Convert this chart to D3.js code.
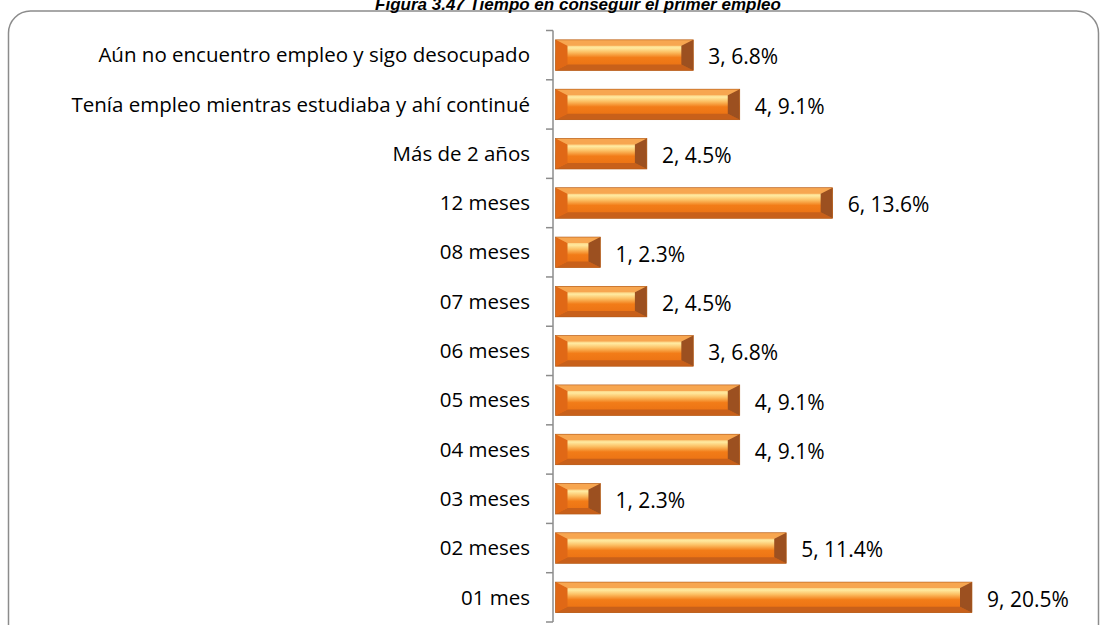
<!DOCTYPE html>
<html><head><meta charset="utf-8">
<script src="https://cdn.jsdelivr.net/npm/d3@7"></script>
<style>html,body{margin:0;padding:0;background:#fff;overflow:hidden}</style>
</head><body>
<svg id="c" width="1102" height="625"></svg>
<script>
const categories = ["Aún no encuentro empleo y sigo desocupado","Tenía empleo mientras estudiaba y ahí continué","Más de 2 años","12 meses","08 meses","07 meses","06 meses","05 meses","04 meses","03 meses","02 meses","01 mes"];
const counts = [3,4,2,6,1,2,3,4,4,1,5,9];
const percents = ["6.8%","9.1%","4.5%","13.6%","2.3%","4.5%","6.8%","9.1%","9.1%","2.3%","11.4%","20.5%"];
const title = "Figura 3.47 Tiempo en conseguir el primer empleo";

const svg = d3.select("#c");
const font = "'Open Sans', 'Noto Sans', sans-serif";

// frame
svg.append("rect").attr("x",8.5).attr("y",11).attr("width",1090).attr("height",640)
  .attr("rx",22).attr("ry",22).attr("fill","none").attr("stroke","#8c8c8c").attr("stroke-width",1.5);

svg.append("text").attr("x",578).attr("y",10).attr("text-anchor","middle")
  .attr("font-family","Arial, 'Liberation Sans', sans-serif").attr("font-weight","bold")
  .attr("font-style","italic").attr("font-size",17).attr("fill","#000").text(title);

const x = d3.scaleLinear().domain([0,9]).range([554,972]);
const y = d3.scaleBand().domain(categories).range([30.5,622]).paddingInner(0.38).paddingOuter(0.19);

const defs = svg.append("defs");
const g1 = defs.append("linearGradient").attr("id","face").attr("x1",0).attr("y1",0).attr("x2",0).attr("y2",1);
[[0,"#f38a2c"],[0.26,"#ffeaa0"],[0.4,"#fcc064"],[0.58,"#f27c18"],[1,"#e86e12"]].forEach(s=>g1.append("stop").attr("offset",s[0]).attr("stop-color",s[1]));

// axis
const ax = svg.append("g").attr("transform","translate(553,0)");
ax.append("line").attr("x1",0).attr("x2",0).attr("y1",30.5).attr("y2",622).attr("stroke","#8c8c8c").attr("stroke-width",1.5);
d3.range(categories.length+1).forEach(i=>{
  const yy = 30.5 + i*((622-30.5)/categories.length);
  ax.append("line").attr("x1",-7).attr("x2",0).attr("y1",yy).attr("y2",yy).attr("stroke","#8c8c8c").attr("stroke-width",1.5);
});

const bars = svg.append("g").selectAll("g").data(categories).join("g");
bars.each(function(c,i){
  const g = d3.select(this);
  const x0 = x(0)+1.5, x1 = x(counts[i]);
  const y0 = y(c), h = y.bandwidth(), y1 = y0+h;
  const bw = Math.min(12,(x1-x0)/3), bh = 6;
  g.append("rect").attr("x",x0).attr("y",y0).attr("width",x1-x0).attr("height",h).attr("fill","url(#face)");
  g.append("path").attr("d",`M${x0},${y0}L${x1},${y0}L${x1-bw},${y0+bh}L${x0+bw},${y0+bh}Z`).attr("fill","#f7a650");
  g.append("path").attr("d",`M${x0},${y1}L${x1},${y1}L${x1-bw},${y1-bh}L${x0+bw},${y1-bh}Z`).attr("fill","#c8601a");
  g.append("path").attr("d",`M${x0},${y0}L${x0+bw},${y0+bh}L${x0+bw},${y1-bh}L${x0},${y1}Z`).attr("fill","#e06816");
  g.append("path").attr("d",`M${x1},${y0}L${x1-bw},${y0+bh}L${x1-bw},${y1-bh}L${x1},${y1}Z`).attr("fill","#9c5020");
  g.append("rect").attr("x",x0).attr("y",y0).attr("width",x1-x0).attr("height",h).attr("fill","none").attr("stroke","#b05a1a").attr("stroke-width",0.6);
});

svg.append("g").selectAll("text").data(categories).join("text")
  .attr("x",530).attr("y",d=>y(d)+y.bandwidth()/2).attr("dy","0.35em")
  .attr("text-anchor","end").attr("font-family",font).attr("font-size",20.5).attr("fill","#000").text(d=>d);

svg.append("g").selectAll("text").data(categories).join("text")
  .attr("x",(d,i)=>x(counts[i])+15).attr("y",d=>y(d)+y.bandwidth()/2+2).attr("dy","0.35em")
  .attr("font-family",font).attr("font-size",21).attr("fill","#000").text((d,i)=>counts[i]+", "+percents[i]);
</script>
</body></html>
